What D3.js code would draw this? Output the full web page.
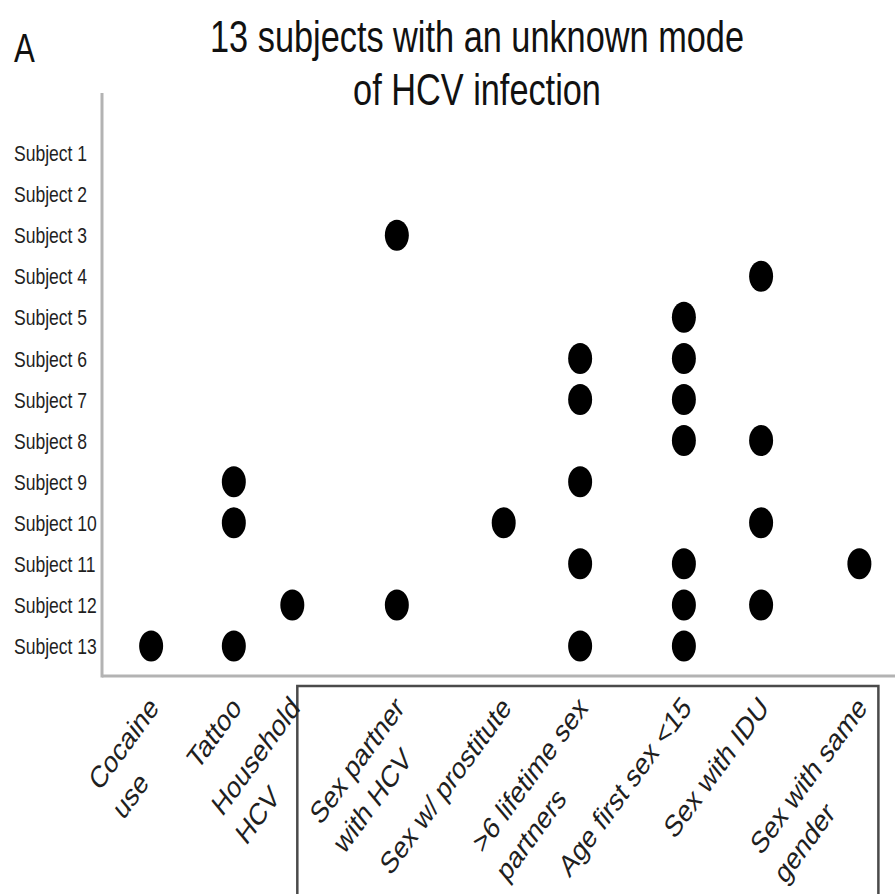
<!DOCTYPE html>
<html>
<head>
<meta charset="utf-8">
<script src="https://cdn.jsdelivr.net/npm/d3@7"></script>
<style>
html,body{margin:0;padding:0;background:#fff;}
svg{display:block;}
</style>
</head>
<body>
<svg id="chart" width="895" height="894"></svg>
<script>
// ---- data ----
const panelLabel = "A";
const titleLines = ["13 subjects with an unknown mode", "of HCV infection"];
const subjects = ["Subject 1","Subject 2","Subject 3","Subject 4","Subject 5","Subject 6","Subject 7",
  "Subject 8","Subject 9","Subject 10","Subject 11","Subject 12","Subject 13"];
const categories = ["Cocaine use","Tattoo","Household HCV","Sex partner with HCV","Sex w/ prostitute",
  ">6 lifetime sex partners","Age first sex <15","Sex with IDU","Sex with same gender"];
const categoryLabelLines = [["Cocaine","use"],["Tattoo"],["Household","HCV"],["Sex partner","with HCV"],
  ["Sex w/ prostitute"],[">6 lifetime sex","partners"],["Age first sex <15"],["Sex with IDU"],["Sex with same","gender"]];
// category location on the (unlabelled) horizontal axis, in axis units 0..10
const categoryPosition = [0.63, 1.69, 2.44, 3.78, 5.15, 6.13, 7.46, 8.45, 9.71];
// sexual-risk categories enclosed by the box
const boxedCategories = ["Sex partner with HCV","Sex w/ prostitute",">6 lifetime sex partners",
  "Age first sex <15","Sex with IDU","Sex with same gender"];
// risk factors present per subject
const subjectFactors = {
  "Subject 1": [],
  "Subject 2": [],
  "Subject 3": ["Sex partner with HCV"],
  "Subject 4": ["Sex with IDU"],
  "Subject 5": ["Age first sex <15"],
  "Subject 6": [">6 lifetime sex partners","Age first sex <15"],
  "Subject 7": [">6 lifetime sex partners","Age first sex <15"],
  "Subject 8": ["Age first sex <15","Sex with IDU"],
  "Subject 9": ["Tattoo",">6 lifetime sex partners"],
  "Subject 10": ["Tattoo","Sex w/ prostitute","Sex with IDU"],
  "Subject 11": [">6 lifetime sex partners","Age first sex <15","Sex with same gender"],
  "Subject 12": ["Household HCV","Sex partner with HCV","Age first sex <15","Sex with IDU"],
  "Subject 13": ["Cocaine use","Tattoo",">6 lifetime sex partners","Age first sex <15"]
};

// ---- layout ----
const SX = 0.78; // horizontal compression of the original figure
const FONT = "'Liberation Sans', Arial, sans-serif";
const svg = d3.select("#chart");

const x = d3.scaleLinear().domain([0, 10]).range([102, 882]);
const posOf = c => x(categoryPosition[categories.indexOf(c)]);
const y = d3.scalePoint().domain(subjects).range([153, 646]);

const axisLeft = 102, axisBottom = 676, axisTop = 93;

// axes lines
svg.append("line").attr("x1", axisLeft).attr("x2", axisLeft).attr("y1", axisTop).attr("y2", axisBottom + 1.5)
  .attr("stroke", "#b3b3b3").attr("stroke-width", 3);
svg.append("line").attr("x1", axisLeft).attr("x2", 895).attr("y1", axisBottom).attr("y2", axisBottom)
  .attr("stroke", "#b3b3b3").attr("stroke-width", 3);

// y tick labels
svg.append("g").selectAll("g").data(subjects).join("g")
  .attr("transform", d => `translate(14,${y(d)}) scale(${SX},1)`)
  .append("text")
  .attr("dy", "0.36em")
  .attr("font-family", FONT).attr("font-size", 22.5).attr("fill", "#1f1f1f")
  .text(d => d);

// dots
const points = [];
subjects.forEach(s => subjectFactors[s].forEach(c => points.push({s, c})));
svg.append("g").selectAll("ellipse").data(points).join("ellipse")
  .attr("cx", d => posOf(d.c)).attr("cy", d => y(d.s))
  .attr("rx", 12).attr("ry", 15.5).attr("fill", "#000");

// box around sexual risk factors
const boxLeft = posOf(categories[2]) + 5;
const boxRight = posOf(boxedCategories[boxedCategories.length - 1]) + 19;
svg.append("rect").attr("x", boxLeft).attr("y", 686).attr("width", boxRight - boxLeft).attr("height", 260)
  .attr("fill", "none").attr("stroke", "#4a4a4a").attr("stroke-width", 2.5);

// x category labels (rotated, compressed)
const XF = 31, LH = 42;
categories.forEach((c, i) => {
  const g = svg.append("g")
    .attr("transform", `translate(${posOf(c) - 4},694) scale(${SX},1) rotate(-47)`);
  const lines = categoryLabelLines[i];
  const t1 = g.append("text").attr("x", 0).attr("y", XF * 0.72)
    .attr("text-anchor", "end").attr("font-family", FONT).attr("font-size", XF).attr("fill", "#1f1f1f")
    .text(lines[0]);
  const L1 = t1.node().getComputedTextLength();
  for (let k = 1; k < lines.length; k++) {
    g.append("text").attr("x", -L1).attr("y", XF * 0.72 + LH * k)
      .attr("text-anchor", "start").attr("font-family", FONT).attr("font-size", XF).attr("fill", "#1f1f1f")
      .text(lines[k]);
  }
});

// title
titleLines.forEach((t, i) => {
  svg.append("g").attr("transform", `translate(477,${52 + i * 53}) scale(${SX},1)`)
    .append("text").attr("text-anchor", "middle")
    .attr("font-family", FONT).attr("font-size", 44).attr("fill", "#111").text(t);
});
// panel label
svg.append("g").attr("transform", `translate(14,62) scale(${SX},1)`)
  .append("text").attr("font-family", FONT).attr("font-size", 40).attr("fill", "#111").text(panelLabel);
</script>
</body>
</html>
